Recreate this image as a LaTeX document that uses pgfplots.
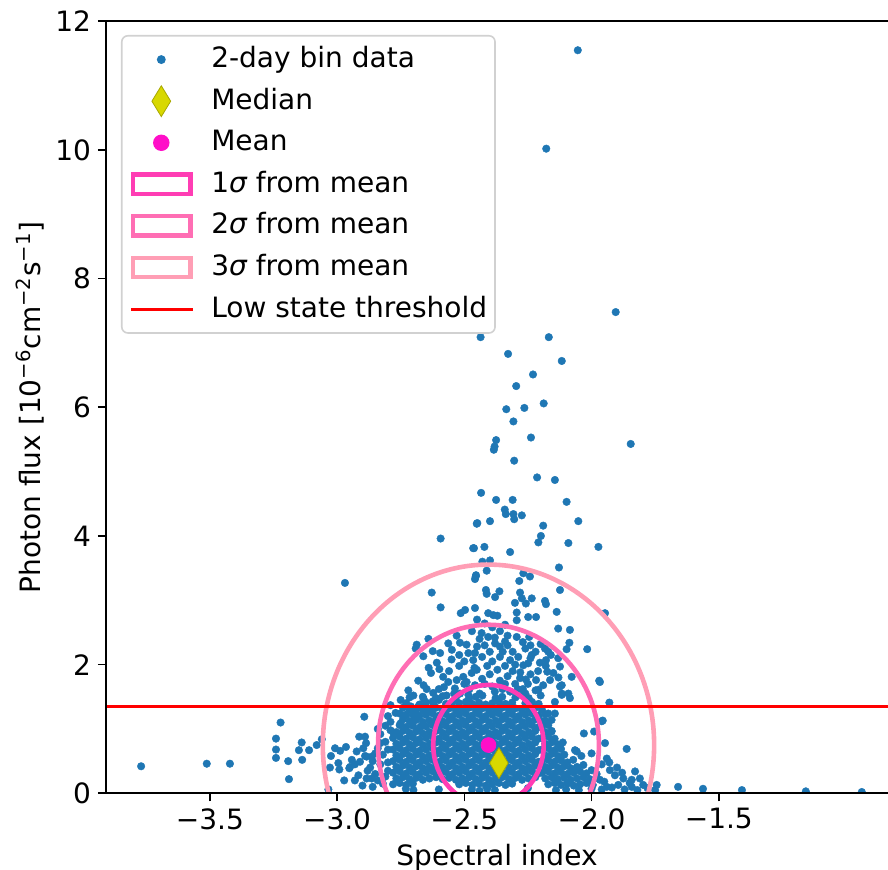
\documentclass[border=0pt]{standalone}
\usepackage{fontspec}
\setmainfont{DejaVu Sans}
\usepackage{pgfplots}
\pgfplotsset{compat=1.18}
\definecolor{mplblue}{HTML}{1F77B4}
\definecolor{meancol}{HTML}{FF0FC8}
\definecolor{sone}{HTML}{FF3DB4}
\definecolor{stwo}{HTML}{FF6EB4}
\definecolor{sthree}{HTML}{FF9EB5}
\definecolor{medfill}{HTML}{D8D800}
\definecolor{mededge}{HTML}{A8A800}
\begin{document}
\begin{tikzpicture}[font=\fontsize{14pt}{16.8pt}\selectfont]
\begin{axis}[
  name=ax,
  scale only axis,
  width=391pt, height=386pt,
  xmin=-3.908, xmax=-0.835, ymin=0, ymax=12,
  clip marker paths=true,
  axis line style={draw=none},
  tick pos=left, tick align=outside,
  major tick length=4pt,
  tick style={black, line width=0.8pt},
  xtick={-3.5,-3,-2.5,-2,-1.5},
  xticklabels={−3.5,−3.0,−2.5,−2.0,−1.5},
  ytick={0,2,4,6,8,10,12},
  yticklabels={0,2,4,6,8,10,12},
  xlabel={Spectral index},
  ylabel={Photon flux [10\textsuperscript{−6}cm\textsuperscript{−2}s\textsuperscript{−1}]},
  every axis x label/.style={at={([yshift=-32pt]rel axis cs:0.5,0)}, anchor=center},
  every axis y label/.style={at={([xshift=-38pt]rel axis cs:0,0.5)}, anchor=center, rotate=90},
  legend style={at={(0,1)}, anchor=north west, xshift=7.5pt, yshift=-6.85pt,
    draw=black!18, line width=0.8pt, rounded corners=3pt, fill=white,
    inner xsep=4pt, inner ysep=1.5pt, row sep=0pt,
    nodes={inner xsep=0pt, inner ysep=0pt, draw=none, fill=none},
    cells={anchor=base west}},
]
% legend entries
\addlegendimage{legend image code/.code={\path[draw=none,fill=none] (0pt,-6.4pt) rectangle (40pt,14.4pt); \fill[mplblue] (15pt,4pt) circle (1.8pt);}}
\addlegendentry{2-day bin data}
\addlegendimage{legend image code/.code={\path[draw=none,fill=none] (0pt,-6.4pt) rectangle (40pt,14.4pt); \draw[fill=medfill, draw=mededge, line width=0.4pt, sharp corners] (15pt,11.7pt) -- (19.7pt,4pt) -- (15pt,-3.7pt) -- (10.3pt,4pt) -- cycle;}}
\addlegendentry{Median}
\addlegendimage{legend image code/.code={\path[draw=none,fill=none] (0pt,-6.4pt) rectangle (40pt,14.4pt); \fill[meancol] (15pt,4pt) circle (3.7pt);}}
\addlegendentry{Mean}
\addlegendimage{legend image code/.code={\path[draw=none,fill=none] (0pt,-6.4pt) rectangle (40pt,14.4pt); \draw[sone, line width=2.2pt, sharp corners] (1pt,-0.85pt) rectangle (29.7pt,8.85pt);}}
\addlegendentry{1{\itshape σ} from mean}
\addlegendimage{legend image code/.code={\path[draw=none,fill=none] (0pt,-6.4pt) rectangle (40pt,14.4pt); \draw[stwo, line width=2.2pt, sharp corners] (1pt,-0.85pt) rectangle (29.7pt,8.85pt);}}
\addlegendentry{2{\itshape σ} from mean}
\addlegendimage{legend image code/.code={\path[draw=none,fill=none] (0pt,-6.4pt) rectangle (40pt,14.4pt); \draw[sthree, line width=2.2pt, sharp corners] (1pt,-0.85pt) rectangle (29.7pt,8.85pt);}}
\addlegendentry{3{\itshape σ} from mean}
\addlegendimage{legend image code/.code={\path[draw=none,fill=none] (0pt,-6.4pt) rectangle (40pt,14.4pt); \draw[red, line width=1.5pt] (0pt,4pt) -- (30.7pt,4pt);}}
\addlegendentry{Low state threshold}

% 2-day bin data
\addplot[only marks, mark=*, mark size=1.9pt, mark options={fill=mplblue, draw=mplblue, line width=0.2pt}, forget plot] coordinates {
% upper outliers
(-2.054,11.55)(-2.178,10.02)(-1.905,7.48)(-2.436,7.09)(-2.168,7.09)(-2.328,6.83)(-2.117,6.72)(-2.230,6.51)
(-2.296,6.33)(-2.335,5.97)(-2.264,5.99)(-2.188,6.06)(-2.307,5.78)(-2.375,5.49)(-2.384,5.34)(-2.381,5.39)
(-2.238,5.53)(-1.846,5.43)(-2.304,5.17)(-2.214,4.91)(-2.144,4.87)(-2.434,4.67)(-2.375,4.56)(-2.310,4.56)
(-2.341,4.41)(-2.337,4.34)(-2.307,4.34)(-2.304,4.26)(-2.274,4.32)(-2.098,4.53)(-2.052,4.23)(-2.449,4.20)
(-2.399,4.23)(-2.190,4.16)(-2.199,4.00)(-2.209,3.90)(-2.091,3.89)(-1.973,3.83)(-2.462,3.81)(-2.421,3.83)
(-2.320,3.75)(-2.429,3.60)(-2.399,3.62)(-2.128,3.51)(-2.412,3.46)(-2.454,3.39)(-2.458,3.33)(-2.268,3.42)
(-2.242,3.37)(-2.284,3.30)(-2.124,3.16)(-2.415,3.16)(-2.412,3.10)(-2.362,3.14)(-2.379,3.05)(-2.281,3.12)
(-2.274,3.03)(-2.235,3.03)(-2.258,2.95)(-2.301,2.96)(-2.183,2.99)(-2.179,2.94)(-2.458,2.88)(-2.137,2.82)
(-1.947,2.80)(-2.406,2.80)(-2.386,2.77)(-2.370,2.76)(-2.294,2.81)(-2.249,2.74)(-2.218,2.74)(-2.294,2.69)
(-2.131,2.56)(-2.085,2.54)(-2.017,2.24)(-2.087,2.34)(-2.098,2.24)(-1.970,1.75)(-2.131,2.10)(-2.078,1.81)
(-2.183,2.25)(-2.170,2.20)(-2.340,2.36)(-2.294,2.43)(-2.245,2.43)(-2.235,2.15)(-2.203,2.03)(-2.179,2.07)
(-2.174,1.89)(-2.150,1.87)(-2.163,1.76)(-2.218,1.76)(-2.209,1.61)(-2.258,1.77)(-2.281,1.79)(-2.349,2.20)
(-2.320,2.07)(-2.288,2.12)(-2.268,1.99)(-2.249,2.02)(-2.379,2.33)(-2.406,2.43)(-2.432,2.49)(-2.458,2.18)
(-2.124,1.97)(-2.117,1.68)(-2.117,1.55)(-2.091,1.55)
(-2.451,4.19)(-2.593,3.96)(-2.465,3.81)(-2.969,3.27)(-2.455,3.37)(-2.628,3.12)(-2.593,2.89)(-2.514,2.80)
(-2.497,2.85)(-2.687,2.31)(-2.641,2.40)(-2.691,2.25)(-2.661,2.13)(-2.624,2.21)(-2.595,2.18)(-2.563,2.33)
(-2.530,2.45)(-2.517,2.34)(-2.491,2.31)(-2.549,2.23)(-2.520,2.15)(-2.608,2.03)(-2.598,1.93)(-2.631,1.87)
(-2.681,1.75)(-2.720,1.60)(-2.648,1.62)(-2.622,1.56)(-2.583,1.81)(-2.563,1.73)(-2.537,1.63)(-2.504,1.81)
(-2.491,1.73)(-2.471,1.87)(-2.465,2.07)(-2.484,2.18)(-2.451,1.92)(-2.530,1.76)(-2.458,1.68)(-2.517,1.55)
(-2.484,1.53)
(-2.47,2.52)(-2.44,2.40)(-2.42,2.30)(-2.40,2.20)(-2.43,2.12)(-2.39,2.05)(-2.36,2.12)(-2.41,1.98)
(-2.37,1.92)(-2.34,1.98)(-2.31,1.90)(-2.33,1.82)(-2.30,1.70)(-2.36,1.75)(-2.40,1.85)(-2.43,1.78)
(-2.39,1.66)(-2.35,1.62)(-2.32,1.58)(-2.27,1.62)(-2.25,1.70)(-2.24,1.85)(-2.28,1.88)(-2.26,2.25)
(-2.22,2.20)(-2.20,2.32)(-2.36,2.52)(-2.33,2.45)(-2.39,2.58)(-2.34,2.62)(-2.42,2.64)(-2.45,2.70)
(-2.60,1.62)(-2.56,1.90)(-2.52,1.98)(-2.48,1.62)(-2.44,1.55)(-2.42,1.70)(-2.46,1.95)(-2.38,1.58)
(-2.34,1.70)(-2.29,1.62)(-2.26,1.55)(-2.22,1.60)(-2.19,1.68)(-2.21,1.90)(-2.18,1.98)(-2.30,2.00)
(-2.33,2.30)(-2.27,2.35)(-2.24,2.10)(-2.38,2.42)(-2.50,2.05)(-2.55,2.08)(-2.58,1.65)(-2.66,1.68)
(-2.70,1.52)(-2.64,1.95)(-2.54,1.55)(-2.50,1.70)(-2.45,2.28)(-2.36,2.28)(-2.31,2.20)(-2.24,2.30)
(-2.16,2.15)(-2.13,1.80)(-2.20,1.52)
% left upper part of the core
(-2.79,1.37)(-2.77,1.25)(-2.79,1.11)(-2.75,1.09)(-2.79,0.98)(-2.71,1.35)(-2.68,1.35)(-2.70,1.14)
(-2.67,1.04)(-2.64,1.27)(-2.66,1.47)(-2.60,1.45)(-2.57,1.52)(-2.62,1.38)(-2.55,1.40)(-2.73,1.22)
(-2.69,1.25)(-2.75,1.45)
% left tail
(-3.770,0.42)(-3.512,0.46)(-3.421,0.46)(-3.222,1.10)(-3.240,0.85)(-3.240,0.68)(-3.240,0.55)(-3.192,0.50)
(-3.189,0.22)(-3.139,0.79)(-3.150,0.67)(-3.110,0.67)(-3.080,0.75)(-3.137,0.52)(-3.060,0.84)(-2.893,1.19)
(-3.024,0.58)(-3.008,0.70)(-2.988,0.66)(-2.965,0.72)(-2.923,0.65)(-2.913,0.88)(-2.890,0.88)(-2.886,0.78)
(-2.897,0.70)(-3.028,0.40)(-2.991,0.37)(-2.995,0.47)(-2.952,0.39)(-2.972,0.20)(-3.034,0.06)(-2.942,0.52)
(-2.916,0.28)(-2.884,0.23)(-2.864,0.23)(-2.910,0.49)(-2.884,0.57)(-2.949,0.41)(-2.864,0.57)
(-2.85,0.30)(-2.83,0.45)(-2.85,0.62)(-2.82,0.15)(-2.87,0.40)(-2.84,0.70)(-2.81,0.80)(-2.83,0.92)(-2.80,0.35)
(-2.93,0.20)(-2.90,0.12)(-2.88,0.35)(-2.86,0.10)(-2.84,0.20)(-2.81,0.26)(-2.80,0.48)(-2.82,0.60)
(-2.86,0.50)(-2.89,0.58)(-2.93,0.45)(-2.80,0.68)(-2.83,0.78)(-2.78,0.95)(-2.81,1.05)(-2.84,1.00)(-2.80,1.20)
% right side
(-1.660,0.10)(-1.562,0.07)(-1.409,0.05)(-1.158,0.03)(-0.938,0.02)(-1.862,0.69)(-1.940,0.54)(-1.947,0.78)
(-1.960,1.12)(-2.030,0.93)(-1.990,0.96)(-1.930,1.41)(-2.058,0.65)(-1.829,0.34)(-1.810,0.23)(-1.744,0.13)
(-1.842,0.21)(-1.875,0.23)(-1.928,0.36)(-1.908,0.28)(-1.967,0.21)(-1.940,0.10)(-1.895,0.13)(-1.842,0.10)
(-1.797,0.13)(-2.000,0.36)(-2.032,0.44)(-2.072,0.52)(-2.065,0.67)(-2.113,0.79)(-2.157,0.96)(-2.170,1.24)
(-2.144,1.24)(-2.157,1.14)(-2.085,1.48)(-2.124,1.66)(-2.117,1.53)(-2.144,1.42)(-1.967,1.73)(-1.956,1.13)
(-1.82,0.05)(-1.75,0.05)(-1.96,0.45)(-1.93,0.48)(-1.98,0.30)(-1.95,0.18)(-1.90,0.40)(-1.88,0.32)
(-1.85,0.16)(-1.92,0.09)(-1.87,0.06)(-1.78,0.08)(-2.00,0.62)(-2.04,0.58)
% right extension of the core
(-2.170,0.14)(-2.145,0.16)(-2.120,0.13)(-2.095,0.15)(-2.070,0.12)(-2.045,0.14)(-2.020,0.16)(-1.995,0.13)
(-2.182,0.23)(-2.157,0.25)(-2.132,0.22)(-2.107,0.24)(-2.082,0.21)(-2.057,0.23)(-2.032,0.25)(-2.007,0.22)(-1.980,0.24)
(-2.195,0.32)(-2.170,0.34)(-2.145,0.31)(-2.120,0.33)(-2.095,0.30)(-2.070,0.32)(-2.045,0.34)(-2.020,0.31)
(-2.182,0.41)(-2.157,0.43)(-2.132,0.40)(-2.107,0.42)(-2.082,0.39)(-2.057,0.41)
(-2.195,0.50)(-2.170,0.52)(-2.145,0.49)(-2.120,0.51)(-2.095,0.48)
(-2.182,0.59)(-2.157,0.61)(-2.132,0.58)(-2.107,0.60)
(-2.195,0.68)(-2.170,0.70)(-2.145,0.67)(-2.120,0.69)
(-2.182,0.77)(-2.157,0.79)(-2.132,0.76)
(-2.195,0.86)(-2.170,0.88)(-2.145,0.85)
(-2.182,0.95)(-2.157,0.97)
(-2.195,1.04)(-2.170,1.06)
(-2.182,1.13)
(-2.10,0.06)(-2.05,0.05)(-2.00,0.07)(-1.96,0.06)
% dense core
(-2.780,0.14)(-2.754,0.16)(-2.728,0.13)(-2.702,0.15)(-2.520,0.14)(-2.494,0.16)(-2.468,0.13)(-2.442,0.15)
(-2.416,0.12)(-2.390,0.14)(-2.364,0.16)(-2.338,0.13)(-2.312,0.15)
(-2.47,0.06)(-2.44,0.04)(-2.41,0.07)(-2.38,0.05)(-2.73,0.07)(-2.70,0.05)(-2.60,0.06)(-2.25,0.08)(-2.14,0.05)
(-2.767,0.23)(-2.741,0.25)(-2.715,0.22)(-2.689,0.24)(-2.663,0.21)(-2.637,0.23)(-2.611,0.25)(-2.585,0.22)
(-2.559,0.24)(-2.533,0.21)(-2.507,0.23)(-2.481,0.25)(-2.455,0.22)(-2.429,0.24)(-2.403,0.21)(-2.377,0.23)
(-2.351,0.25)(-2.325,0.22)(-2.299,0.24)(-2.273,0.21)(-2.247,0.23)(-2.221,0.25)
(-2.780,0.32)(-2.754,0.34)(-2.728,0.31)(-2.702,0.33)(-2.676,0.30)(-2.650,0.32)(-2.624,0.34)(-2.598,0.31)
(-2.572,0.33)(-2.546,0.30)(-2.520,0.32)(-2.494,0.34)(-2.468,0.31)(-2.442,0.33)(-2.416,0.30)(-2.390,0.32)
(-2.364,0.34)(-2.338,0.31)(-2.312,0.33)(-2.286,0.30)(-2.260,0.32)(-2.234,0.34)(-2.208,0.31)
(-2.767,0.41)(-2.741,0.43)(-2.715,0.40)(-2.689,0.42)(-2.663,0.39)(-2.637,0.41)(-2.611,0.43)(-2.585,0.40)
(-2.559,0.42)(-2.533,0.39)(-2.507,0.41)(-2.481,0.43)(-2.455,0.40)(-2.429,0.42)(-2.403,0.39)(-2.377,0.41)
(-2.351,0.43)(-2.325,0.40)(-2.299,0.42)(-2.273,0.39)(-2.247,0.41)(-2.221,0.43)
(-2.780,0.50)(-2.754,0.52)(-2.728,0.49)(-2.702,0.51)(-2.676,0.48)(-2.650,0.50)(-2.624,0.52)(-2.598,0.49)
(-2.572,0.51)(-2.546,0.48)(-2.520,0.50)(-2.494,0.52)(-2.468,0.49)(-2.442,0.51)(-2.416,0.48)(-2.390,0.50)
(-2.364,0.52)(-2.338,0.49)(-2.312,0.51)(-2.286,0.48)(-2.260,0.50)(-2.234,0.52)(-2.208,0.49)
(-2.767,0.59)(-2.741,0.61)(-2.715,0.58)(-2.689,0.60)(-2.663,0.57)(-2.637,0.59)(-2.611,0.61)(-2.585,0.58)
(-2.559,0.60)(-2.533,0.57)(-2.507,0.59)(-2.481,0.61)(-2.455,0.58)(-2.429,0.60)(-2.403,0.57)(-2.377,0.59)
(-2.351,0.61)(-2.325,0.58)(-2.299,0.60)(-2.273,0.57)(-2.247,0.59)(-2.221,0.61)
(-2.780,0.68)(-2.754,0.70)(-2.728,0.67)(-2.702,0.69)(-2.676,0.66)(-2.650,0.68)(-2.624,0.70)(-2.598,0.67)
(-2.572,0.69)(-2.546,0.66)(-2.520,0.68)(-2.494,0.70)(-2.468,0.67)(-2.442,0.69)(-2.416,0.66)(-2.390,0.68)
(-2.364,0.70)(-2.338,0.67)(-2.312,0.69)(-2.286,0.66)(-2.260,0.68)(-2.234,0.70)(-2.208,0.67)
(-2.767,0.77)(-2.741,0.79)(-2.715,0.76)(-2.689,0.78)(-2.663,0.75)(-2.637,0.77)(-2.611,0.79)(-2.585,0.76)
(-2.559,0.78)(-2.533,0.75)(-2.507,0.77)(-2.481,0.79)(-2.455,0.76)(-2.429,0.78)(-2.403,0.75)(-2.377,0.77)
(-2.351,0.79)(-2.325,0.76)(-2.299,0.78)(-2.273,0.75)(-2.247,0.77)(-2.221,0.79)
(-2.780,0.86)(-2.754,0.88)(-2.728,0.85)(-2.702,0.87)(-2.676,0.84)(-2.650,0.86)(-2.624,0.88)(-2.598,0.85)
(-2.572,0.87)(-2.546,0.84)(-2.520,0.86)(-2.494,0.88)(-2.468,0.85)(-2.442,0.87)(-2.416,0.84)(-2.390,0.86)
(-2.364,0.88)(-2.338,0.85)(-2.312,0.87)(-2.286,0.84)(-2.260,0.86)(-2.234,0.88)(-2.208,0.85)
(-2.767,0.95)(-2.741,0.97)(-2.715,0.94)(-2.689,0.96)(-2.663,0.93)(-2.637,0.95)(-2.611,0.97)(-2.585,0.94)
(-2.559,0.96)(-2.533,0.93)(-2.507,0.95)(-2.481,0.97)(-2.455,0.94)(-2.429,0.96)(-2.403,0.93)(-2.377,0.95)
(-2.351,0.97)(-2.325,0.94)(-2.299,0.96)(-2.273,0.93)(-2.247,0.95)(-2.221,0.97)
(-2.754,1.06)(-2.728,1.03)(-2.702,1.05)(-2.676,1.02)(-2.650,1.04)(-2.624,1.06)(-2.598,1.03)(-2.572,1.05)
(-2.546,1.02)(-2.520,1.04)(-2.494,1.06)(-2.468,1.03)(-2.442,1.05)(-2.416,1.02)(-2.390,1.04)(-2.364,1.06)
(-2.338,1.03)(-2.312,1.05)(-2.286,1.02)(-2.260,1.04)(-2.234,1.06)(-2.208,1.03)
(-2.741,1.15)(-2.715,1.12)(-2.689,1.14)(-2.663,1.11)(-2.637,1.13)(-2.611,1.15)(-2.585,1.12)(-2.559,1.14)
(-2.533,1.11)(-2.507,1.13)(-2.481,1.15)(-2.455,1.12)(-2.429,1.14)(-2.403,1.11)(-2.377,1.13)(-2.351,1.15)
(-2.325,1.12)(-2.299,1.14)(-2.273,1.11)(-2.247,1.13)(-2.221,1.15)(-2.195,1.12)
(-2.754,1.24)(-2.728,1.21)(-2.702,1.23)(-2.676,1.20)(-2.650,1.22)(-2.624,1.24)(-2.598,1.21)(-2.572,1.23)
(-2.546,1.20)(-2.520,1.22)(-2.494,1.24)(-2.468,1.21)(-2.442,1.23)(-2.416,1.20)(-2.390,1.22)(-2.364,1.24)
(-2.338,1.21)(-2.312,1.23)(-2.286,1.20)(-2.260,1.22)(-2.234,1.24)(-2.208,1.21)(-2.182,1.23)
(-2.741,1.33)(-2.715,1.30)(-2.689,1.32)(-2.663,1.29)(-2.637,1.31)(-2.611,1.33)(-2.585,1.30)(-2.559,1.32)
(-2.533,1.29)(-2.507,1.31)(-2.481,1.33)(-2.455,1.30)(-2.429,1.32)(-2.403,1.29)(-2.377,1.31)(-2.351,1.33)
(-2.325,1.30)(-2.299,1.32)(-2.273,1.29)(-2.247,1.31)(-2.221,1.33)(-2.195,1.30)
(-2.728,1.40)(-2.676,1.38)(-2.650,1.41)(-2.624,1.43)(-2.572,1.39)(-2.546,1.42)(-2.520,1.40)(-2.494,1.42)
(-2.468,1.39)(-2.442,1.41)(-2.416,1.38)(-2.390,1.40)(-2.364,1.42)(-2.338,1.39)(-2.312,1.41)(-2.260,1.40)
(-2.234,1.42)(-2.208,1.39)
(-2.715,1.49)(-2.663,1.50)(-2.611,1.48)(-2.585,1.51)(-2.533,1.49)(-2.481,1.47)(-2.455,1.50)(-2.429,1.52)
(-2.377,1.48)(-2.351,1.50)(-2.299,1.49)(-2.273,1.52)(-2.247,1.48)
};

% sigma ellipses around the mean
\draw[sone, line width=2.3pt] (axis cs:-2.405,0.75) ellipse [x radius=0.217, y radius=0.935];
\draw[stwo, line width=2.3pt] (axis cs:-2.405,0.75) ellipse [x radius=0.434, y radius=1.87];
\draw[sthree, line width=2.3pt] (axis cs:-2.405,0.75) ellipse [x radius=0.651, y radius=2.805];

% mean and median
\addplot[only marks, mark=*, mark size=3.7pt, mark options={fill=meancol, draw=meancol}, forget plot] coordinates {(-2.405,0.75)};
\addplot[only marks, mark=diamond*, mark size=7.7pt, mark options={xscale=0.8, fill=medfill, draw=mededge, line width=0.4pt}, forget plot] coordinates {(-2.364,0.47)};

% low state threshold
\addplot[red, line width=1.5pt, forget plot] coordinates {(-3.908,1.345) (-0.835,1.345)};
\end{axis}
\draw[black, line width=1pt] (ax.south east) -- (ax.south west) -- (ax.north west) -- (ax.north east);
\pgfresetboundingbox
\path[use as bounding box] (-53pt,-38.35pt) rectangle (391pt,396.65pt);
\end{tikzpicture}
\end{document}
